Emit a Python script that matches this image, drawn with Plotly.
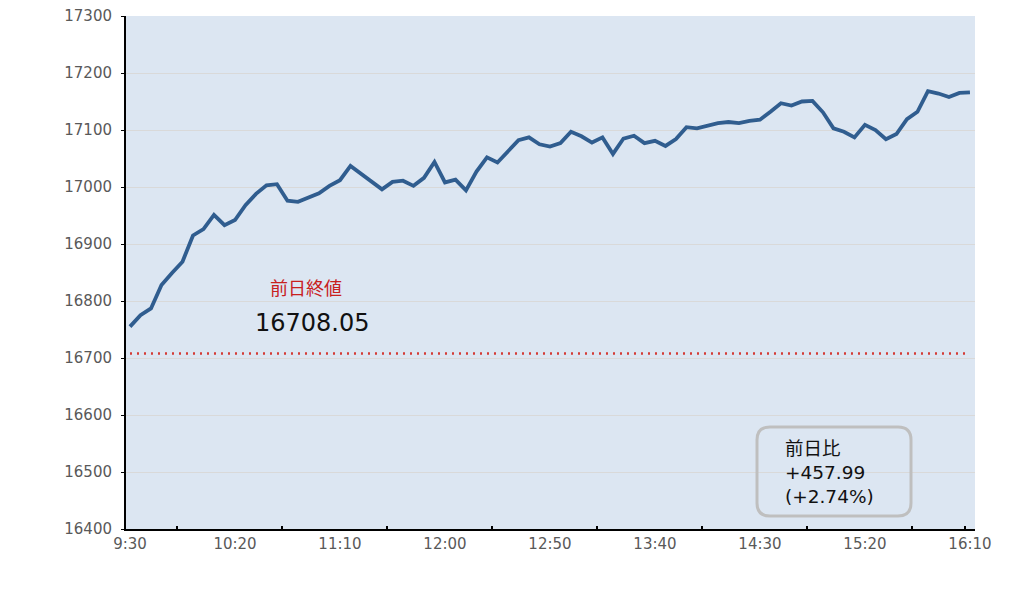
import plotly.graph_objects as go

# ---- data ----
start_h, start_m, step = 9, 30, 5
values = [
    16755, 16775, 16787, 16828, 16849, 16869, 16915, 16926, 16951, 16933,
    16942, 16968, 16988, 17003, 17005, 16976, 16974, 16981, 16989, 17002,
    17012, 17037, 17023, 17011, 16996, 17009, 17011, 17002, 17016, 17044,
    17008, 17013, 16994, 17027, 17052, 17043, 17062, 17082, 17087, 17075,
    17071, 17077, 17097, 17089, 17078, 17087, 17058, 17085, 17090, 17077,
    17081, 17072, 17084, 17105, 17103, 17108, 17112, 17114, 17112, 17116,
    17118, 17132, 17147, 17143, 17150, 17151, 17131, 17103, 17097, 17087,
    17109, 17100, 17084, 17093, 17119, 17132, 17168, 17164, 17158, 17165,
    17166.04,
]
minutes = [i * step for i in range(len(values))]
time_labels = [f"{(start_h*60+start_m+m)//60}:{(start_h*60+start_m+m)%60:02d}" for m in minutes]

prev_close = 16708.05
change = 457.99
change_pct = 2.74

tick_minutes = [0, 50, 100, 150, 200, 250, 300, 350, 400]
tick_text = [time_labels[m // step] for m in tick_minutes]
minor_tick_minutes = [22.5, 72.5, 122.5, 172.5, 222.5, 272.5, 322.5, 372.5, 397.5]
y_ticks = [16400, 16500, 16600, 16700, 16800, 16900, 17000, 17100, 17200, 17300]

# ---- layout geometry (screen pixels; page body has an 8px margin) ----
OFF = 8
W, H = 1036 - 2 * OFF, 598 - 2 * OFF
L, R, T, B = 126, 975, 16, 529


def px_x(p):
    return (p - L) / (R - L)


def px_y(p):
    return (B - p) / (B - T)


FONT = "DejaVu Sans, Noto Sans CJK JP, sans-serif"

fig = go.Figure()

fig.add_trace(go.Scatter(
    x=[minutes[0], minutes[-1]], y=[prev_close, prev_close], mode="lines",
    line=dict(color="#D43A34", width=2.5, dash="2px,5px"),
    hoverinfo="skip", showlegend=False,
))

fig.add_trace(go.Scatter(
    x=minutes, y=values, mode="lines",
    line=dict(color="#305D8F", width=3.8),
    customdata=time_labels,
    hovertemplate="%{customdata}: %{y}<extra></extra>",
    showlegend=False,
))

# rounded box
x0, x1 = px_x(757), px_x(911)
y0, y1 = px_y(516), px_y(427)
rx, ry = 13 / (R - L), 13 / (B - T)
path = (
    f"M {x0+rx},{y1} L {x1-rx},{y1} Q {x1},{y1} {x1},{y1-ry} "
    f"L {x1},{y0+ry} Q {x1},{y0} {x1-rx},{y0} "
    f"L {x0+rx},{y0} Q {x0},{y0} {x0},{y0+ry} "
    f"L {x0},{y1-ry} Q {x0},{y1} {x0+rx},{y1} Z"
)
fig.add_shape(type="path", xref="paper", yref="paper", path=path,
              line=dict(color="#BFBFBF", width=3), fillcolor="rgba(0,0,0,0)")

fig.add_annotation(
    xref="paper", yref="paper", x=px_x(783), y=px_y(472),
    xanchor="left", yanchor="middle", align="left", showarrow=False,
    text=f"前日比<br>+{change:.2f}<br>(+{change_pct:.2f}%)",
    font=dict(family=FONT, size=18.5, color="#111111"),
)

fig.add_annotation(
    xref="paper", yref="paper", x=px_x(306), y=px_y(288),
    xanchor="center", yanchor="middle", showarrow=False,
    text="前日終値", font=dict(family=FONT, size=18, color="#C8201E"),
)
fig.add_annotation(
    xref="paper", yref="paper", x=px_x(312), y=px_y(323),
    xanchor="center", yanchor="middle", showarrow=False,
    text=f"{prev_close:.2f}", font=dict(family=FONT, size=24, color="#111111"),
)

fig.update_layout(
    width=W, height=H,
    margin=dict(l=L - OFF, r=1036 - OFF - R, t=T - OFF, b=598 - OFF - B, pad=0,
                autoexpand=False),
    paper_bgcolor="white", plot_bgcolor="#DCE6F2",
    font=dict(family=FONT, size=15, color="#595959"),
    xaxis=dict(
        range=[-1.9, 402.4], tickmode="array", tickvals=tick_minutes, ticktext=tick_text,
        ticks="", showgrid=False, zeroline=False, automargin=False,
        showline=True, linecolor="black", linewidth=2,
        tickfont=dict(family=FONT, size=15, color="#595959"),
        ticklabeloverflow="allow",
        minor=dict(tickmode="array", tickvals=minor_tick_minutes, ticks="inside",
                   ticklen=3, tickwidth=2, tickcolor="black", showgrid=False),
        fixedrange=True,
    ),
    yaxis=dict(
        range=[16400, 17300], tickmode="array", tickvals=y_ticks, tickformat="d",
        ticks="outside", ticklen=3, tickwidth=1, tickcolor="black",
        showgrid=True, gridcolor="#D9D9D9", gridwidth=1, zeroline=False,
        showline=True, linecolor="black", linewidth=2, automargin=False,
        tickfont=dict(family=FONT, size=15, color="#595959"),
        ticklabelstandoff=6, ticklabeloverflow="allow",
        fixedrange=True,
    ),
)

fig.write_html("out.html")
